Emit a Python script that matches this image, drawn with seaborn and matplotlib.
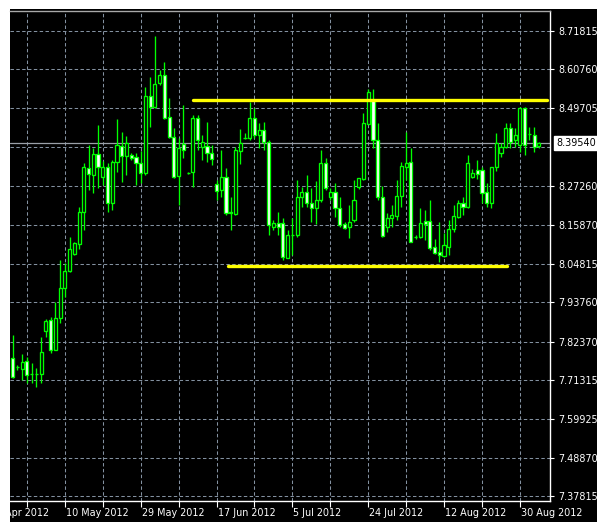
import numpy as np
import pandas as pd
import matplotlib
matplotlib.use("Agg")
import matplotlib.pyplot as plt
import matplotlib.transforms as mtransforms
from matplotlib.patches import Rectangle
import seaborn as sns

# ---------------- data (daily OHLC, bar index 0..111) ----------------
opens = [7.776, 7.750, 7.744, 7.767, 7.730, 7.730, 7.730, 7.854, 7.885, 7.799,
         7.891, 7.978, 8.027, 8.076, 8.104, 8.197, 8.323, 8.303, 8.364, 8.297,
         8.326, 8.223, 8.341, 8.387, 8.358, 8.361, 8.355, 8.338, 8.309, 8.531,
         8.499, 8.568, 8.591, 8.470, 8.413, 8.300, 8.393, 8.309, 8.312, 8.467,
         8.384, 8.387, 8.367, 8.277, 8.260, 8.297, 8.197, 8.191, 8.372, 8.410,
         8.410, 8.467, 8.418, 8.433, 8.398, 8.153, 8.165, 8.165, 8.064, 8.130,
         8.130, 8.240, 8.254, 8.223, 8.208, 8.231, 8.338, 8.240, 8.254, 8.208,
         8.162, 8.153, 8.174, 8.269, 8.292, 8.450, 8.519, 8.404, 8.240, 8.153,
         8.179, 8.185, 8.243, 8.326, 8.341, 8.125, 8.125, 8.171, 8.171, 8.096,
         8.081, 8.070, 8.096, 8.148, 8.182, 8.223, 8.211, 8.297, 8.318, 8.318,
         8.254, 8.223, 8.326, 8.367, 8.384, 8.439, 8.404, 8.390, 8.496, 8.421,
         8.418, 8.387]
highs = [7.842, 7.756, 7.787, 7.779, 7.761, 7.747, 7.836, 7.888, 7.894, 7.937,
         8.058, 8.050, 8.125, 8.110, 8.211, 8.338, 8.390, 8.381, 8.447, 8.344,
         8.338, 8.346, 8.465, 8.427, 8.416, 8.367, 8.367, 8.372, 8.557, 8.586,
         8.704, 8.606, 8.629, 8.525, 8.439, 8.410, 8.505, 8.312, 8.476, 8.476,
         8.418, 8.456, 8.390, 8.289, 8.375, 8.323, 8.240, 8.384, 8.436, 8.424,
         8.514, 8.496, 8.453, 8.456, 8.404, 8.174, 8.197, 8.179, 8.145, 8.179,
         8.289, 8.269, 8.303, 8.266, 8.286, 8.375, 8.352, 8.266, 8.280, 8.240,
         8.168, 8.217, 8.289, 8.295, 8.482, 8.551, 8.551, 8.453, 8.272, 8.194,
         8.217, 8.289, 8.341, 8.427, 8.381, 8.130, 8.208, 8.202, 8.231, 8.119,
         8.168, 8.136, 8.174, 8.217, 8.231, 8.240, 8.361, 8.320, 8.346, 8.326,
         8.280, 8.326, 8.424, 8.395, 8.453, 8.453, 8.439, 8.499, 8.499, 8.442,
         8.442, 8.398]
lows = [7.718, 7.741, 7.712, 7.704, 7.704, 7.692, 7.704, 7.836, 7.790, 7.799,
        7.877, 7.952, 8.024, 8.073, 8.090, 8.145, 8.260, 8.251, 8.266, 8.274,
        8.197, 8.202, 8.312, 8.283, 8.303, 8.346, 8.274, 8.280, 8.303, 8.442,
        8.496, 8.563, 8.465, 8.410, 8.295, 8.217, 8.352, 8.306, 8.269, 8.375,
        8.346, 8.341, 8.332, 8.231, 8.240, 8.188, 8.145, 8.188, 8.335, 8.407,
        8.404, 8.410, 8.381, 8.375, 8.130, 8.145, 8.130, 8.058, 8.064, 8.073,
        8.125, 8.211, 8.211, 8.168, 8.162, 8.225, 8.260, 8.231, 8.182, 8.153,
        8.148, 8.122, 8.168, 8.263, 8.289, 8.450, 8.381, 8.231, 8.125, 8.139,
        8.153, 8.174, 8.211, 8.289, 8.110, 8.119, 8.122, 8.116, 8.087, 8.076,
        8.052, 8.067, 8.073, 8.139, 8.179, 8.188, 8.208, 8.295, 8.292, 8.223,
        8.211, 8.208, 8.315, 8.355, 8.381, 8.381, 8.384, 8.369, 8.361, 8.404,
        8.369, 8.381]
closes = [7.721, 7.750, 7.764, 7.727, 7.730, 7.730, 7.793, 7.882, 7.799, 7.891,
          7.978, 8.027, 8.090, 8.107, 8.197, 8.326, 8.306, 8.364, 8.326, 8.326,
          8.223, 8.341, 8.390, 8.358, 8.395, 8.352, 8.338, 8.309, 8.531, 8.499,
          8.565, 8.591, 8.467, 8.413, 8.297, 8.381, 8.375, 8.309, 8.467, 8.404,
          8.398, 8.367, 8.349, 8.257, 8.297, 8.194, 8.194, 8.375, 8.395, 8.410,
          8.467, 8.418, 8.433, 8.398, 8.159, 8.165, 8.153, 8.067, 8.130, 8.130,
          8.240, 8.254, 8.223, 8.208, 8.231, 8.338, 8.266, 8.254, 8.208, 8.159,
          8.150, 8.168, 8.231, 8.295, 8.453, 8.542, 8.404, 8.240, 8.127, 8.179,
          8.188, 8.243, 8.329, 8.338, 8.110, 8.125, 8.165, 8.162, 8.093, 8.078,
          8.073, 8.101, 8.148, 8.185, 8.223, 8.211, 8.338, 8.309, 8.306, 8.251,
          8.223, 8.326, 8.395, 8.384, 8.439, 8.398, 8.418, 8.496, 8.390, 8.421,
          8.384, 8.3954]

# price-axis labels and grid levels
price_labels = ["8.71815", "8.60760", "8.49705", "8.27260", "8.15870", "8.04815",
                "7.93760", "7.82370", "7.71315", "7.59925", "7.48870", "7.37815"]
hidden_grid_level = 8.38483
last_price_label = "8.39540"

# time-axis labels (bar index of each label)
date_labels = ["22 Apr 2012", "10 May 2012", "29 May 2012", "17 Jun 2012",
               "5 Jul 2012", "24 Jul 2012", "12 Aug 2012", "30 Aug 2012"]
date_bars = [-5, 11, 27, 43, 59, 75, 91, 107]

# hand-drawn support / resistance lines
level_names = ["resistance", "support"]
level_prices = [8.5208, 8.0424]
level_start_bar = [38.1, 45.5]
level_end_bar = [112.7, 104.2]

# ---------------- styling ----------------
sns.set_style("dark", rc={"axes.facecolor": "black", "figure.facecolor": "white"})
plt.rcParams["font.family"] = ["DejaVu Sans"]

W, H = 600, 528
fig = plt.figure(figsize=(W / 100, H / 100), dpi=100, facecolor="white")
fig.add_artist(Rectangle((10 / W, 6 / H), 587 / W, 513 / H, transform=fig.transFigure,
                         facecolor="black", edgecolor="none", zorder=-10))
ax = fig.add_axes([10 / W, (H - 501) / H, 540 / W, 490 / H])
ax.set_facecolor("black")

n = len(opens)
x = np.arange(n)
o = np.array(opens); c = np.array(closes); hi = np.array(highs); lo = np.array(lows)

GRID = "#8391a0"
LIME = "#00ff00"
dash = (0, (3.3, 2.3))

ax.set_xlim(-0.57, 113.35)
ax.set_ylim(7.3645, 8.7758)

# grid
label_vals = [float(v) for v in price_labels]
for v in label_vals + [hidden_grid_level]:
    ax.axhline(v, color=GRID, lw=0.75, ls=dash, zorder=1)
grid_bars = list(range(3, 108, 8))
for b in grid_bars:
    ax.axvline(b, color=GRID, lw=0.75, ls=dash, zorder=1)

# last-price line
ax.axhline(float(last_price_label), color="#9aa0a8", lw=0.9, zorder=2)

# candles
ax.vlines(x, lo, hi, color=LIME, lw=0.95, zorder=3)
bottoms = np.minimum(o, c)
heights = np.maximum(np.abs(c - o), 0.0004)
fills = np.where(c < o, "white", "black")
ax.bar(x, heights, bottom=bottoms, width=0.66, color=fills, edgecolor=LIME,
       linewidth=0.95, zorder=4)

# support / resistance lines via seaborn
rows = []
for name, p, s, e in zip(level_names, level_prices, level_start_bar, level_end_bar):
    rows.append({"level": name, "bar": s, "price": p})
    rows.append({"level": name, "bar": e, "price": p})
lines_df = pd.DataFrame(rows)
sns.lineplot(data=lines_df, x="bar", y="price", units="level", estimator=None,
             sort=False, color="#ffff00", lw=2.4, ax=ax, legend=False, zorder=5)
ax.set_xlabel("")
ax.set_ylabel("")

# spines
for s in ax.spines.values():
    s.set_visible(True)
ax.spines["left"].set_visible(False)
ax.spines["top"].set_color("#a8a8a8")
ax.spines["right"].set_color("white")
ax.spines["bottom"].set_color("white")
for s in ["top", "right", "bottom"]:
    ax.spines[s].set_linewidth(1.0)

# y ticks on the right
ax.yaxis.tick_right()
ax.set_yticks(label_vals)
ax.set_yticklabels(price_labels)
ax.tick_params(axis="y", colors="white", length=3, width=0.8, pad=3,
               labelsize=6.9, direction="out", right=True, left=False)

# x ticks
ax.set_xticks(grid_bars)
ax.set_xticklabels([""] * len(grid_bars))
ax.tick_params(axis="x", colors="white", length=4, width=0.8, direction="out",
               bottom=True, top=False)

trans_x = mtransforms.blended_transform_factory(ax.transData, ax.transAxes)
offs = mtransforms.ScaledTranslation(1 / 100, -12 / 100, fig.dpi_scale_trans)
for lab, b in zip(date_labels, date_bars):
    ax.text(b, 0, lab, transform=trans_x + offs, ha="left", va="center",
            color="white", fontsize=6.9, clip_on=False)

# last price label box
trans_y = mtransforms.blended_transform_factory(ax.transAxes, ax.transData)
offs_y = mtransforms.ScaledTranslation(6 / 100, 0, fig.dpi_scale_trans)
ax.text(1.0, float(last_price_label), last_price_label, transform=trans_y + offs_y,
        ha="left", va="center", color="black", fontsize=6.9, zorder=10, clip_on=False,
        bbox=dict(facecolor="white", edgecolor="white", pad=0.25, boxstyle="square"))

fig.savefig("out.png", dpi=100, facecolor="white")
